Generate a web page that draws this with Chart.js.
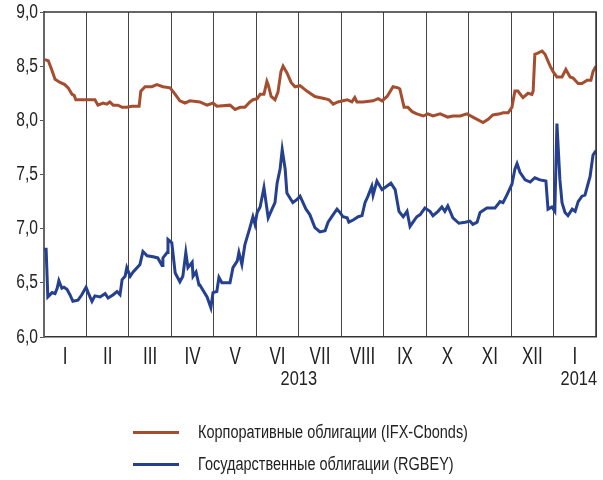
<!DOCTYPE html>
<html>
<head>
<meta charset="utf-8">
<script src="https://cdn.jsdelivr.net/npm/chart.js@4.4.1/dist/chart.umd.min.js"></script>
<style>
  html, body { margin: 0; padding: 0; background: #fff; }
  #wrap { position: relative; width: 603px; height: 480px; }
  #c { position: absolute; left: 0; top: 0; }
  .lg { position: absolute; left: 133px; font-family: 'Liberation Sans', Arial, sans-serif; font-size: 18px; color: #222; white-space: nowrap; height: 22px; line-height: 22px; }
  .lg span.ln { position: absolute; left: 0; top: 10px; width: 46px; height: 3px; }
  .lg span.tx { position: absolute; left: 65px; top: 0; transform: scaleX(0.805); transform-origin: 0 50%; }
</style>
</head>
<body>
<div id="wrap">
  <canvas id="c" width="603" height="480"></canvas>
  <div class="lg" style="top:421px"><span class="ln" style="background:#a44d2f"></span><span class="tx" id="t1"></span></div>
  <div class="lg" style="top:453px"><span class="ln" style="background:#25408f"></span><span class="tx" id="t2"></span></div>
</div>
<script>
const FONT = "'Liberation Sans', Arial, sans-serif";

const seriesNames = ['Корпоративные облигации (IFX-Cbonds)', 'Государственные облигации (RGBEY)'];
const monthLabels = ['I','II','III','IV','V','VI','VII','VIII','IX','X','XI','XII','I'];
const yearLabels = ['2013', '2014'];
const yTicks = [6.0, 6.5, 7.0, 7.5, 8.0, 8.5, 9.0];

// x: months since start of January 2013 (fractional)
const corpX = [0.02,0.10,0.18,0.26,0.38,0.49,0.57,0.66,0.71,0.75,0.85,1.01,1.20,1.27,1.39,1.48,1.55,1.63,1.74,1.84,1.95,2.07,2.24,2.28,2.38,2.54,2.66,2.80,2.97,3.09,3.20,3.32,3.44,3.67,3.84,3.98,4.07,4.38,4.50,4.62,4.73,4.85,4.92,5.02,5.09,5.18,5.25,5.28,5.35,5.44,5.51,5.58,5.63,5.72,5.82,5.91,6.03,6.19,6.38,6.62,6.71,6.81,6.92,7.14,7.25,7.32,7.37,7.51,7.75,7.87,7.96,8.08,8.22,8.34,8.38,8.48,8.57,8.67,8.78,8.93,9.04,9.16,9.33,9.51,9.63,9.80,9.96,10.10,10.34,10.46,10.57,10.74,10.81,10.93,11.02,11.09,11.16,11.28,11.40,11.49,11.52,11.56,11.63,11.73,11.80,11.92,11.99,12.08,12.20,12.29,12.39,12.46,12.58,12.67,12.79,12.88,12.93,13.00];
const corpY = [8.56,8.55,8.47,8.38,8.35,8.33,8.30,8.24,8.23,8.19,8.19,8.19,8.19,8.14,8.16,8.15,8.17,8.14,8.14,8.12,8.12,8.13,8.13,8.27,8.31,8.31,8.33,8.31,8.30,8.24,8.18,8.16,8.18,8.17,8.14,8.16,8.13,8.14,8.10,8.12,8.12,8.17,8.19,8.20,8.24,8.24,8.36,8.33,8.22,8.19,8.26,8.45,8.50,8.44,8.35,8.31,8.32,8.27,8.22,8.20,8.19,8.15,8.17,8.19,8.17,8.21,8.17,8.17,8.18,8.20,8.18,8.22,8.31,8.30,8.29,8.12,8.12,8.08,8.06,8.04,8.06,8.04,8.06,8.03,8.04,8.04,8.06,8.03,7.98,8.01,8.05,8.06,8.07,8.07,8.12,8.27,8.27,8.21,8.25,8.24,8.27,8.61,8.62,8.64,8.61,8.50,8.45,8.40,8.40,8.47,8.40,8.39,8.34,8.34,8.37,8.37,8.45,8.50];

const govX = [0.00,0.05,0.09,0.19,0.26,0.31,0.35,0.42,0.47,0.54,0.61,0.68,0.80,0.89,0.99,1.04,1.13,1.20,1.32,1.44,1.51,1.63,1.72,1.79,1.84,1.91,1.95,2.03,2.10,2.26,2.33,2.43,2.57,2.68,2.78,2.80,2.90,2.92,3.01,3.09,3.20,3.27,3.34,3.39,3.49,3.51,3.58,3.65,3.67,3.84,3.93,3.98,4.07,4.12,4.19,4.38,4.45,4.55,4.59,4.66,4.73,4.85,4.92,4.97,5.02,5.09,5.18,5.28,5.37,5.44,5.49,5.56,5.61,5.68,5.72,5.86,5.96,6.03,6.17,6.26,6.38,6.50,6.62,6.69,6.81,6.90,6.97,7.04,7.14,7.18,7.28,7.40,7.49,7.56,7.63,7.72,7.75,7.84,7.96,8.03,8.17,8.27,8.36,8.46,8.55,8.62,8.69,8.78,8.86,8.97,9.09,9.16,9.28,9.37,9.44,9.51,9.63,9.77,9.92,10.03,10.10,10.20,10.27,10.43,10.62,10.74,10.81,10.90,11.02,11.09,11.14,11.21,11.33,11.45,11.56,11.68,11.82,11.87,11.96,12.03,12.08,12.15,12.20,12.27,12.34,12.44,12.51,12.58,12.67,12.74,12.81,12.86,12.93,13.00];
const govY = [6.81,6.81,6.37,6.41,6.40,6.45,6.52,6.45,6.46,6.44,6.39,6.33,6.34,6.39,6.46,6.41,6.33,6.38,6.37,6.40,6.36,6.39,6.42,6.39,6.53,6.56,6.64,6.56,6.60,6.67,6.79,6.75,6.74,6.73,6.66,6.73,6.78,6.90,6.87,6.59,6.51,6.56,6.78,6.64,6.69,6.56,6.60,6.48,6.48,6.37,6.27,6.41,6.42,6.55,6.50,6.50,6.64,6.70,6.78,6.67,6.85,7.01,7.11,7.04,7.15,7.20,7.38,7.10,7.18,7.24,7.42,7.55,7.73,7.55,7.33,7.24,7.27,7.30,7.18,7.13,7.01,6.97,6.98,7.06,7.13,7.18,7.15,7.11,7.10,7.06,7.08,7.11,7.12,7.24,7.30,7.39,7.31,7.44,7.36,7.38,7.42,7.36,7.16,7.11,7.16,7.02,7.06,7.11,7.13,7.19,7.16,7.12,7.16,7.20,7.16,7.21,7.10,7.05,7.06,7.07,7.04,7.06,7.15,7.19,7.19,7.25,7.24,7.31,7.41,7.55,7.60,7.52,7.45,7.43,7.47,7.45,7.44,7.18,7.20,7.16,7.97,7.45,7.24,7.15,7.12,7.18,7.16,7.25,7.30,7.31,7.41,7.48,7.68,7.72];

document.getElementById('t1').textContent = seriesNames[0];
document.getElementById('t2').textContent = seriesNames[1];

const toPts = (xs, ys) => xs.map((x, i) => ({x: x, y: ys[i]}));

function narrowText(ctx, txt, x, y, align, sx) {
  ctx.save();
  ctx.translate(x, y);
  ctx.scale(sx, 1);
  ctx.textAlign = align;
  ctx.fillText(txt, 0, 0);
  ctx.restore();
}

const textPlugin = {
  id: 'textPlugin',
  afterDraw(chart) {
    const ctx = chart.ctx, xs = chart.scales.x, ys = chart.scales.y, a = chart.chartArea;
    ctx.save();
    // frame top and right
    ctx.strokeStyle = '#333';
    ctx.lineWidth = 1.5;
    ctx.beginPath();
    ctx.moveTo(a.left, a.top); ctx.lineTo(a.right, a.top); ctx.lineTo(a.right, a.bottom);
    ctx.stroke();
    ctx.fillStyle = '#222';
    ctx.textBaseline = 'middle';
    // y tick labels
    ctx.font = '20px ' + FONT;
    yTicks.forEach(v => {
      narrowText(ctx, v.toFixed(1).replace('.', ','), a.left - 6, ys.getPixelForValue(v), 'right', 0.78);
    });
    // month labels
    ctx.font = '23px ' + FONT;
    monthLabels.forEach((m, i) => {
      narrowText(ctx, m, xs.getPixelForValue(i + 0.5), a.bottom + 21, 'center', 0.74);
    });
    // year labels
    ctx.font = '21px ' + FONT;
    narrowText(ctx, yearLabels[0], xs.getPixelForValue(6), a.bottom + 42, 'center', 0.78);
    narrowText(ctx, yearLabels[1], xs.getPixelForValue(13) + 1, a.bottom + 42, 'right', 0.78);
    ctx.restore();
  }
};

new Chart(document.getElementById('c'), {
  type: 'line',
  data: {
    datasets: [
      { label: seriesNames[0], data: toPts(corpX, corpY), borderColor: '#a44d2f', borderWidth: 3, pointRadius: 0, tension: 0, fill: false },
      { label: seriesNames[1], data: toPts(govX, govY), borderColor: '#25408f', borderWidth: 3, pointRadius: 0, tension: 0, fill: false }
    ]
  },
  options: {
    responsive: false,
    animation: false,
    layout: { padding: { top: 12, right: 7, left: 0, bottom: 0 } },
    plugins: { legend: { display: false }, tooltip: { enabled: false } },
    scales: {
      x: {
        type: 'linear', min: 0, max: 13,
        afterBuildTicks: s => { s.ticks = monthLabels.map((_, i) => ({value: i})).concat([{value: 13}]); },
        ticks: { display: false },
        grid: { color: '#444', lineWidth: 1, drawTicks: false },
        border: { display: true, color: '#333', width: 1.5 },
        afterFit: s => { s.height = 143; }
      },
      y: {
        min: 6, max: 9,
        afterBuildTicks: s => { s.ticks = yTicks.map(v => ({value: v})); },
        ticks: { display: false },
        grid: { drawOnChartArea: false, drawTicks: true, tickLength: 4, color: '#555' },
        border: { display: true, color: '#666', width: 2 },
        afterFit: s => { s.width = 44; }
      }
    }
  },
  plugins: [textPlugin]
});
</script>
</body>
</html>
